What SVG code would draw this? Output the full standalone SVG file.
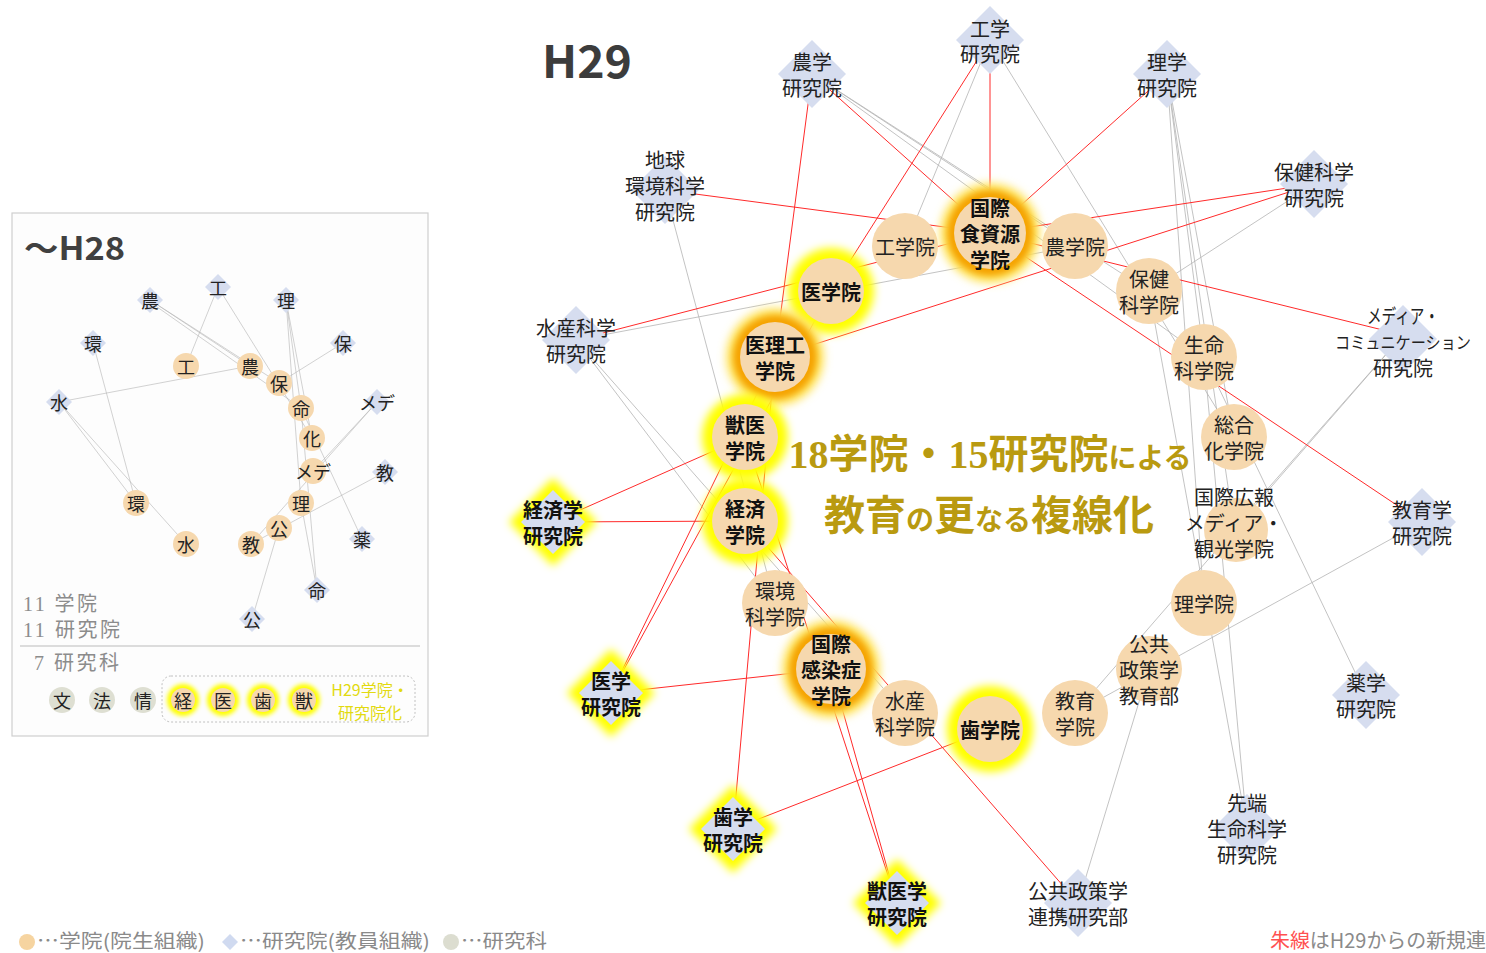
<svg xmlns="http://www.w3.org/2000/svg" width="1486" height="953" viewBox="0 0 1486 953">
<style>
text{font-family:"Noto Sans CJK JP","Noto Sans",sans-serif;}
.c{fill:#f6d8ae;}
.d{fill:#d6ddef;}
.g{fill:#dedfd2;}
.t{font-size:20px;fill:#222;text-anchor:middle;dominant-baseline:central;}
.b{font-size:20px;font-weight:bold;fill:#111;text-anchor:middle;dominant-baseline:central;}
.s{font-size:18px;fill:#222;text-anchor:middle;dominant-baseline:central;}
.red line{stroke:#ff2a2a;stroke-width:1;}
.gray line{stroke:#b4b4b4;stroke-width:0.8;}
.ig line{stroke:#b4b4b4;stroke-width:0.6;}
.gy{fill:#ffff00;filter:url(#blur);}
.go{fill:#f5a300;filter:url(#blur2);}
.gl{fill:#ffe45c;filter:url(#blur);}
.ttl{font-weight:bold;fill:#b99a10;text-anchor:middle;}
.leg{font-size:19px;fill:#8a8a8a;}
.num{font-family:"Liberation Serif","Noto Sans CJK JP",serif;font-size:20px;fill:#8c8c8c;}
</style>
<defs>
<filter id="blur" x="-50%" y="-50%" width="200%" height="200%"><feGaussianBlur stdDeviation="4"/></filter>
<filter id="blur2" x="-50%" y="-50%" width="200%" height="200%"><feGaussianBlur stdDeviation="3"/></filter>
<filter id="sblur" x="-50%" y="-50%" width="200%" height="200%"><feGaussianBlur stdDeviation="2"/></filter>
</defs>
<rect width="1486" height="953" fill="#ffffff"/>

<!-- Inset panel -->
<g id="inset">
<rect x="12" y="213" width="416" height="523" fill="#fdfdfd" stroke="#cfcfcf" stroke-width="1.2"/>
<text x="24" y="260" font-size="32" font-weight="bold" fill="#404040" textLength="101" lengthAdjust="spacingAndGlyphs">～H28</text>
<g class="ig">
<line x1="150" y1="300" x2="250" y2="366"/>
<line x1="150" y1="300" x2="279" y2="383"/>
<line x1="150" y1="302" x2="301" y2="408"/>
<line x1="218" y1="287" x2="186" y2="366"/>
<line x1="218" y1="287" x2="312" y2="438"/>
<line x1="286" y1="300" x2="301" y2="408"/>
<line x1="286" y1="300" x2="312" y2="438"/>
<line x1="286" y1="300" x2="301" y2="503"/>
<line x1="343" y1="343" x2="279" y2="383"/>
<line x1="59" y1="402" x2="250" y2="366"/>
<line x1="59" y1="402" x2="186" y2="544"/>
<line x1="59" y1="402" x2="136" y2="503"/>
<line x1="93" y1="343" x2="136" y2="503"/>
<line x1="377" y1="402" x2="313" y2="471"/>
<line x1="377" y1="402" x2="251" y2="544"/>
<line x1="385" y1="472" x2="251" y2="544"/>
<line x1="362" y1="539" x2="301" y2="408"/>
<line x1="317" y1="590" x2="301" y2="408"/>
<line x1="317" y1="590" x2="301" y2="503"/>
<line x1="252" y1="619" x2="279" y2="528"/>
</g>
<g id="inset-diamonds">
<polygon class="d" points="150,287 163,300 150,313 137,300"/><text class="s" x="150" y="300">農</text>
<polygon class="d" points="218,274 231,287 218,300 205,287"/><text class="s" x="218" y="287">工</text>
<polygon class="d" points="286,287 299,300 286,313 273,300"/><text class="s" x="286" y="300">理</text>
<polygon class="d" points="93,330 106,343 93,356 80,343"/><text class="s" x="93" y="343">環</text>
<polygon class="d" points="343,330 356,343 343,356 330,343"/><text class="s" x="343" y="343">保</text>
<polygon class="d" points="59,389 72,402 59,415 46,402"/><text class="s" x="59" y="402">水</text>
<polygon class="d" points="377,389 390,402 377,415 364,402"/><text class="s" x="377" y="402">メデ</text>
<polygon class="d" points="385,459 398,472 385,485 372,472"/><text class="s" x="385" y="472">教</text>
<polygon class="d" points="362,526 375,539 362,552 349,539"/><text class="s" x="362" y="539">薬</text>
<polygon class="d" points="317,577 330,590 317,603 304,590"/><text class="s" x="317" y="590">命</text>
<polygon class="d" points="252,606 265,619 252,632 239,619"/><text class="s" x="252" y="619">公</text>
</g>
<g id="inset-circles">
<circle class="c" cx="186" cy="366" r="13"/><text class="s" x="186" y="366">工</text>
<circle class="c" cx="250" cy="366" r="13"/><text class="s" x="250" y="366">農</text>
<circle class="c" cx="279" cy="383" r="13"/><text class="s" x="279" y="383">保</text>
<circle class="c" cx="301" cy="408" r="13"/><text class="s" x="301" y="408">命</text>
<circle class="c" cx="312" cy="438" r="13"/><text class="s" x="312" y="438">化</text>
<circle class="c" cx="313" cy="471" r="13"/><text class="s" x="313" y="471">メデ</text>
<circle class="c" cx="301" cy="503" r="13"/><text class="s" x="301" y="503">理</text>
<circle class="c" cx="279" cy="528" r="13"/><text class="s" x="279" y="528">公</text>
<circle class="c" cx="251" cy="544" r="13"/><text class="s" x="251" y="544">教</text>
<circle class="c" cx="186" cy="544" r="13"/><text class="s" x="186" y="544">水</text>
<circle class="c" cx="136" cy="503" r="13"/><text class="s" x="136" y="503">環</text>
</g>
<text class="num" x="23" y="611" textLength="74">11 学院</text>
<text class="num" x="23" y="637" textLength="97">11 研究院</text>
<line x1="20" y1="646" x2="420" y2="646" stroke="#bbbbbb" stroke-width="1"/>
<text class="num" x="34" y="670" textLength="85">7 研究科</text>
<circle class="g" cx="62" cy="700" r="13"/><text class="s" x="62" y="700">文</text>
<circle class="g" cx="102" cy="700" r="13"/><text class="s" x="102" y="700">法</text>
<circle class="g" cx="143" cy="700" r="13"/><text class="s" x="143" y="700">情</text>
<rect x="162" y="676" width="253" height="46" rx="9" fill="none" stroke="#b0b0b0" stroke-width="0.8" stroke-dasharray="2,2"/>
<circle cx="183" cy="700" r="16" fill="#ffff00" filter="url(#sblur)"/><circle class="c" cx="183" cy="700" r="12"/><text class="s" x="183" y="700">経</text>
<circle cx="223" cy="700" r="16" fill="#ffff00" filter="url(#sblur)"/><circle class="c" cx="223" cy="700" r="12"/><text class="s" x="223" y="700">医</text>
<circle cx="263" cy="700" r="16" fill="#ffff00" filter="url(#sblur)"/><circle class="c" cx="263" cy="700" r="12"/><text class="s" x="263" y="700">歯</text>
<circle cx="304" cy="700" r="16" fill="#ffff00" filter="url(#sblur)"/><circle class="c" cx="304" cy="700" r="12"/><text class="s" x="304" y="700">獣</text>
<text x="370" y="689" font-size="16" fill="#e2da10" text-anchor="middle" dominant-baseline="central">H29学院・</text>
<text x="370" y="712" font-size="16" fill="#e2da10" text-anchor="middle" dominant-baseline="central">研究院化</text>
</g>

<text x="542" y="78" font-family="Liberation Sans,Noto Sans,sans-serif" font-size="45" font-weight="bold" fill="#3c3c3c" textLength="90" lengthAdjust="spacingAndGlyphs">H29</text>

<!-- Connectors -->
<g id="connectors">
<g class="gray">
<line x1="812" y1="74" x2="1075" y2="246"/>
<line x1="812" y1="74" x2="1149" y2="291"/>
<line x1="812" y1="74" x2="1204" y2="357"/>
<line x1="990" y1="40" x2="905" y2="246"/>
<line x1="990" y1="40" x2="1234" y2="437"/>
<line x1="1167" y1="74" x2="1204" y2="357"/>
<line x1="1167" y1="74" x2="1234" y2="437"/>
<line x1="1167" y1="74" x2="1204" y2="603"/>
<line x1="1167" y1="74" x2="1234" y2="527"/>
<line x1="1314" y1="184" x2="1149" y2="291"/>
<line x1="1403" y1="335" x2="1234" y2="527"/>
<line x1="1403" y1="335" x2="1075" y2="713"/>
<line x1="1422" y1="522" x2="1075" y2="713"/>
<line x1="1366" y1="695" x2="1204" y2="357"/>
<line x1="1247" y1="828" x2="1204" y2="357"/>
<line x1="1247" y1="828" x2="1149" y2="291"/>
<line x1="1078" y1="903" x2="1149" y2="669"/>
<line x1="665" y1="190" x2="775" y2="603"/>
<line x1="576" y1="340" x2="905" y2="713"/>
<line x1="576" y1="340" x2="775" y2="603"/>
<line x1="576" y1="340" x2="1075" y2="246"/>
</g>
<g class="red">
<line x1="665" y1="190" x2="990" y2="233"/>
<line x1="812" y1="74" x2="990" y2="233"/>
<line x1="812" y1="74" x2="775" y2="357"/>
<line x1="990" y1="40" x2="990" y2="233"/>
<line x1="990" y1="40" x2="831" y2="291"/>
<line x1="1167" y1="74" x2="990" y2="233"/>
<line x1="1314" y1="184" x2="990" y2="233"/>
<line x1="1314" y1="184" x2="775" y2="357"/>
<line x1="576" y1="340" x2="990" y2="233"/>
<line x1="1422" y1="522" x2="990" y2="233"/>
<line x1="1403" y1="335" x2="990" y2="233"/>
<line x1="553" y1="522" x2="745" y2="437"/>
<line x1="553" y1="522" x2="745" y2="521"/>
<line x1="611" y1="693" x2="831" y2="291"/>
<line x1="611" y1="693" x2="775" y2="357"/>
<line x1="611" y1="693" x2="831" y2="669"/>
<line x1="733" y1="829" x2="775" y2="357"/>
<line x1="733" y1="829" x2="990" y2="729"/>
<line x1="897" y1="903" x2="831" y2="669"/>
<line x1="897" y1="903" x2="745" y2="437"/>
<line x1="1078" y1="903" x2="745" y2="521"/>
</g>
</g>

<!-- Diamonds (研究院) -->
<g id="n-kogaku-kenkyuin"><polygon class="d" points="990,6 1024,40 990,74 956,40"/><text class="t" x="990" y="28">工学</text><text class="t" x="990" y="53">研究院</text></g>
<g id="n-nogaku-kenkyuin"><polygon class="d" points="812,40 846,74 812,108 778,74"/><text class="t" x="812" y="61">農学</text><text class="t" x="812" y="87">研究院</text></g>
<g id="n-rigaku-kenkyuin"><polygon class="d" points="1167,40 1201,74 1167,108 1133,74"/><text class="t" x="1167" y="61">理学</text><text class="t" x="1167" y="87">研究院</text></g>
<g id="n-chikyu-kenkyuin"><polygon class="d" points="665,156 699,190 665,224 631,190"/><text class="t" x="665" y="159">地球</text><text class="t" x="665" y="185">環境科学</text><text class="t" x="665" y="211">研究院</text></g>
<g id="n-hoken-kenkyuin"><polygon class="d" points="1314,150 1348,184 1314,218 1280,184"/><text class="t" x="1314" y="171">保健科学</text><text class="t" x="1314" y="197">研究院</text></g>
<g id="n-suisan-kenkyuin"><polygon class="d" points="576,306 610,340 576,374 542,340"/><text class="t" x="576" y="327">水産科学</text><text class="t" x="576" y="353">研究院</text></g>
<g id="n-media-kenkyuin"><polygon class="d" points="1403,305 1437,339 1403,373 1369,339"/><text class="t" x="1403" y="315" textLength="72" lengthAdjust="spacingAndGlyphs">メディア・</text><text class="t" x="1403" y="341" style="font-size:17px" textLength="136" lengthAdjust="spacingAndGlyphs">コミュニケーション</text><text class="t" x="1403" y="367">研究院</text></g>
<g id="n-keizai-kenkyuin"><polygon class="gy" points="553,478 597,522 553,566 509,522"/><polygon class="d" points="553,490 585,522 553,554 521,522"/><text class="b" x="553" y="509">経済学</text><text class="b" x="553" y="535">研究院</text></g>
<g id="n-kyoiku-kenkyuin"><polygon class="d" points="1422,488 1456,522 1422,556 1388,522"/><text class="t" x="1422" y="509">教育学</text><text class="t" x="1422" y="535">研究院</text></g>
<g id="n-igaku-kenkyuin"><polygon class="gy" points="611,649 655,693 611,737 567,693"/><polygon class="d" points="611,661 643,693 611,725 579,693"/><text class="b" x="611" y="680">医学</text><text class="b" x="611" y="706">研究院</text></g>
<g id="n-yakugaku-kenkyuin"><polygon class="d" points="1366,661 1400,695 1366,729 1332,695"/><text class="t" x="1366" y="682">薬学</text><text class="t" x="1366" y="708">研究院</text></g>
<g id="n-shigaku-kenkyuin"><polygon class="gy" points="733,785 777,829 733,873 689,829"/><polygon class="d" points="733,797 765,829 733,861 701,829"/><text class="b" x="733" y="816">歯学</text><text class="b" x="733" y="842">研究院</text></g>
<g id="n-sentan-kenkyuin"><polygon class="d" points="1247,794 1281,828 1247,862 1213,828"/><text class="t" x="1247" y="802">先端</text><text class="t" x="1247" y="828">生命科学</text><text class="t" x="1247" y="854">研究院</text></g>
<g id="n-juigaku-kenkyuin"><polygon class="gy" points="897,859 941,903 897,947 853,903"/><polygon class="d" points="897,871 929,903 897,935 865,903"/><text class="b" x="897" y="890">獣医学</text><text class="b" x="897" y="916">研究院</text></g>
<g id="n-kokyo-kenkyubu"><polygon class="d" points="1078,869 1112,903 1078,937 1044,903"/><text class="t" x="1078" y="890">公共政策学</text><text class="t" x="1078" y="916">連携研究部</text></g>

<!-- Circles (学院) -->
<g id="n-kogakuin"><circle class="c" cx="905" cy="246" r="33"/><text class="t" x="905" y="246">工学院</text></g>
<g id="n-nogakuin"><circle class="c" cx="1075" cy="246" r="33"/><text class="t" x="1075" y="246">農学院</text></g>
<g id="n-shokushigen"><circle class="gl" cx="990" cy="233" r="50"/><circle class="go" cx="990" cy="233" r="43"/><circle class="c" cx="990" cy="233" r="36"/><text class="b" x="990" y="207">国際</text><text class="b" x="990" y="233">食資源</text><text class="b" x="990" y="259">学院</text></g>
<g id="n-igakuin"><circle class="gy" cx="831" cy="291" r="43"/><circle class="c" cx="831" cy="291" r="33"/><text class="b" x="831" y="291">医学院</text></g>
<g id="n-iriko"><circle class="gl" cx="775" cy="357" r="49"/><circle class="go" cx="775" cy="357" r="42"/><circle class="c" cx="775" cy="357" r="35"/><text class="b" x="775" y="344">医理工</text><text class="b" x="775" y="370">学院</text></g>
<g id="n-hoken"><circle class="c" cx="1149" cy="291" r="33"/><text class="t" x="1149" y="278">保健</text><text class="t" x="1149" y="304">科学院</text></g>
<g id="n-seimei"><circle class="c" cx="1204" cy="357" r="33"/><text class="t" x="1204" y="344">生命</text><text class="t" x="1204" y="370">科学院</text></g>
<g id="n-juigakuin"><circle class="gy" cx="745" cy="437" r="43"/><circle class="c" cx="745" cy="437" r="33"/><text class="b" x="745" y="424">獣医</text><text class="b" x="745" y="450">学院</text></g>
<g id="n-sogo"><circle class="c" cx="1234" cy="437" r="33"/><text class="t" x="1234" y="424">総合</text><text class="t" x="1234" y="450">化学院</text></g>
<g id="n-keizai"><circle class="gy" cx="745" cy="521" r="43"/><circle class="c" cx="745" cy="521" r="33"/><text class="b" x="745" y="508">経済</text><text class="b" x="745" y="534">学院</text></g>
<g id="n-kokusaikoho"><circle class="c" cx="1236" cy="530" r="32"/><text class="t" x="1234" y="496">国際広報</text><text class="t" x="1234" y="522">メディア・</text><text class="t" x="1234" y="548">観光学院</text></g>
<g id="n-kankyo"><circle class="c" cx="775" cy="603" r="33"/><text class="t" x="775" y="590">環境</text><text class="t" x="775" y="616">科学院</text></g>
<g id="n-rigakuin"><circle class="c" cx="1204" cy="603" r="33"/><text class="t" x="1204" y="603">理学院</text></g>
<g id="n-kansensho"><circle class="gl" cx="831" cy="669" r="49"/><circle class="go" cx="831" cy="669" r="42"/><circle class="c" cx="831" cy="669" r="35"/><text class="b" x="831" y="643">国際</text><text class="b" x="831" y="669">感染症</text><text class="b" x="831" y="695">学院</text></g>
<g id="n-kokyo"><circle class="c" cx="1149" cy="669" r="33"/><text class="t" x="1149" y="643">公共</text><text class="t" x="1149" y="669">政策学</text><text class="t" x="1149" y="695">教育部</text></g>
<g id="n-suisan"><circle class="c" cx="905" cy="713" r="33"/><text class="t" x="905" y="700">水産</text><text class="t" x="905" y="726">科学院</text></g>
<g id="n-kyoiku"><circle class="c" cx="1075" cy="713" r="33"/><text class="t" x="1075" y="700">教育</text><text class="t" x="1075" y="726">学院</text></g>
<g id="n-shigakuin"><circle class="gy" cx="990" cy="729" r="43"/><circle class="c" cx="990" cy="729" r="33"/><text class="b" x="990" y="729">歯学院</text></g>

<!-- Center title -->
<text class="ttl" x="990" y="468" font-size="40"><tspan font-family="Liberation Serif,serif">18</tspan>学院・<tspan font-family="Liberation Serif,serif">15</tspan>研究院<tspan font-size="28">による</tspan></text>
<text class="ttl" x="989" y="530" font-size="41">教育<tspan font-size="28">の</tspan>更<tspan font-size="28">なる</tspan>複線化</text>

<!-- Legend -->
<g id="legend">
<circle cx="27" cy="942" r="8" fill="#f6d4a0"/>
<text class="leg" x="37" y="948" textLength="168" lengthAdjust="spacingAndGlyphs">…学院(院生組織)</text>
<polygon points="230,934 238,942 230,950 222,942" fill="#d0daf0"/>
<text class="leg" x="240" y="948" textLength="190" lengthAdjust="spacingAndGlyphs">…研究院(教員組織)</text>
<circle cx="451" cy="942" r="8" fill="#dcddd0"/>
<text class="leg" x="461" y="948" textLength="86" lengthAdjust="spacingAndGlyphs">…研究科</text>
<text class="leg" x="1270" y="948" style="font-size:20px" textLength="216" lengthAdjust="spacingAndGlyphs"><tspan fill="#ff5050">朱線</tspan>はH29からの新規連</text>
</g>
</svg>
